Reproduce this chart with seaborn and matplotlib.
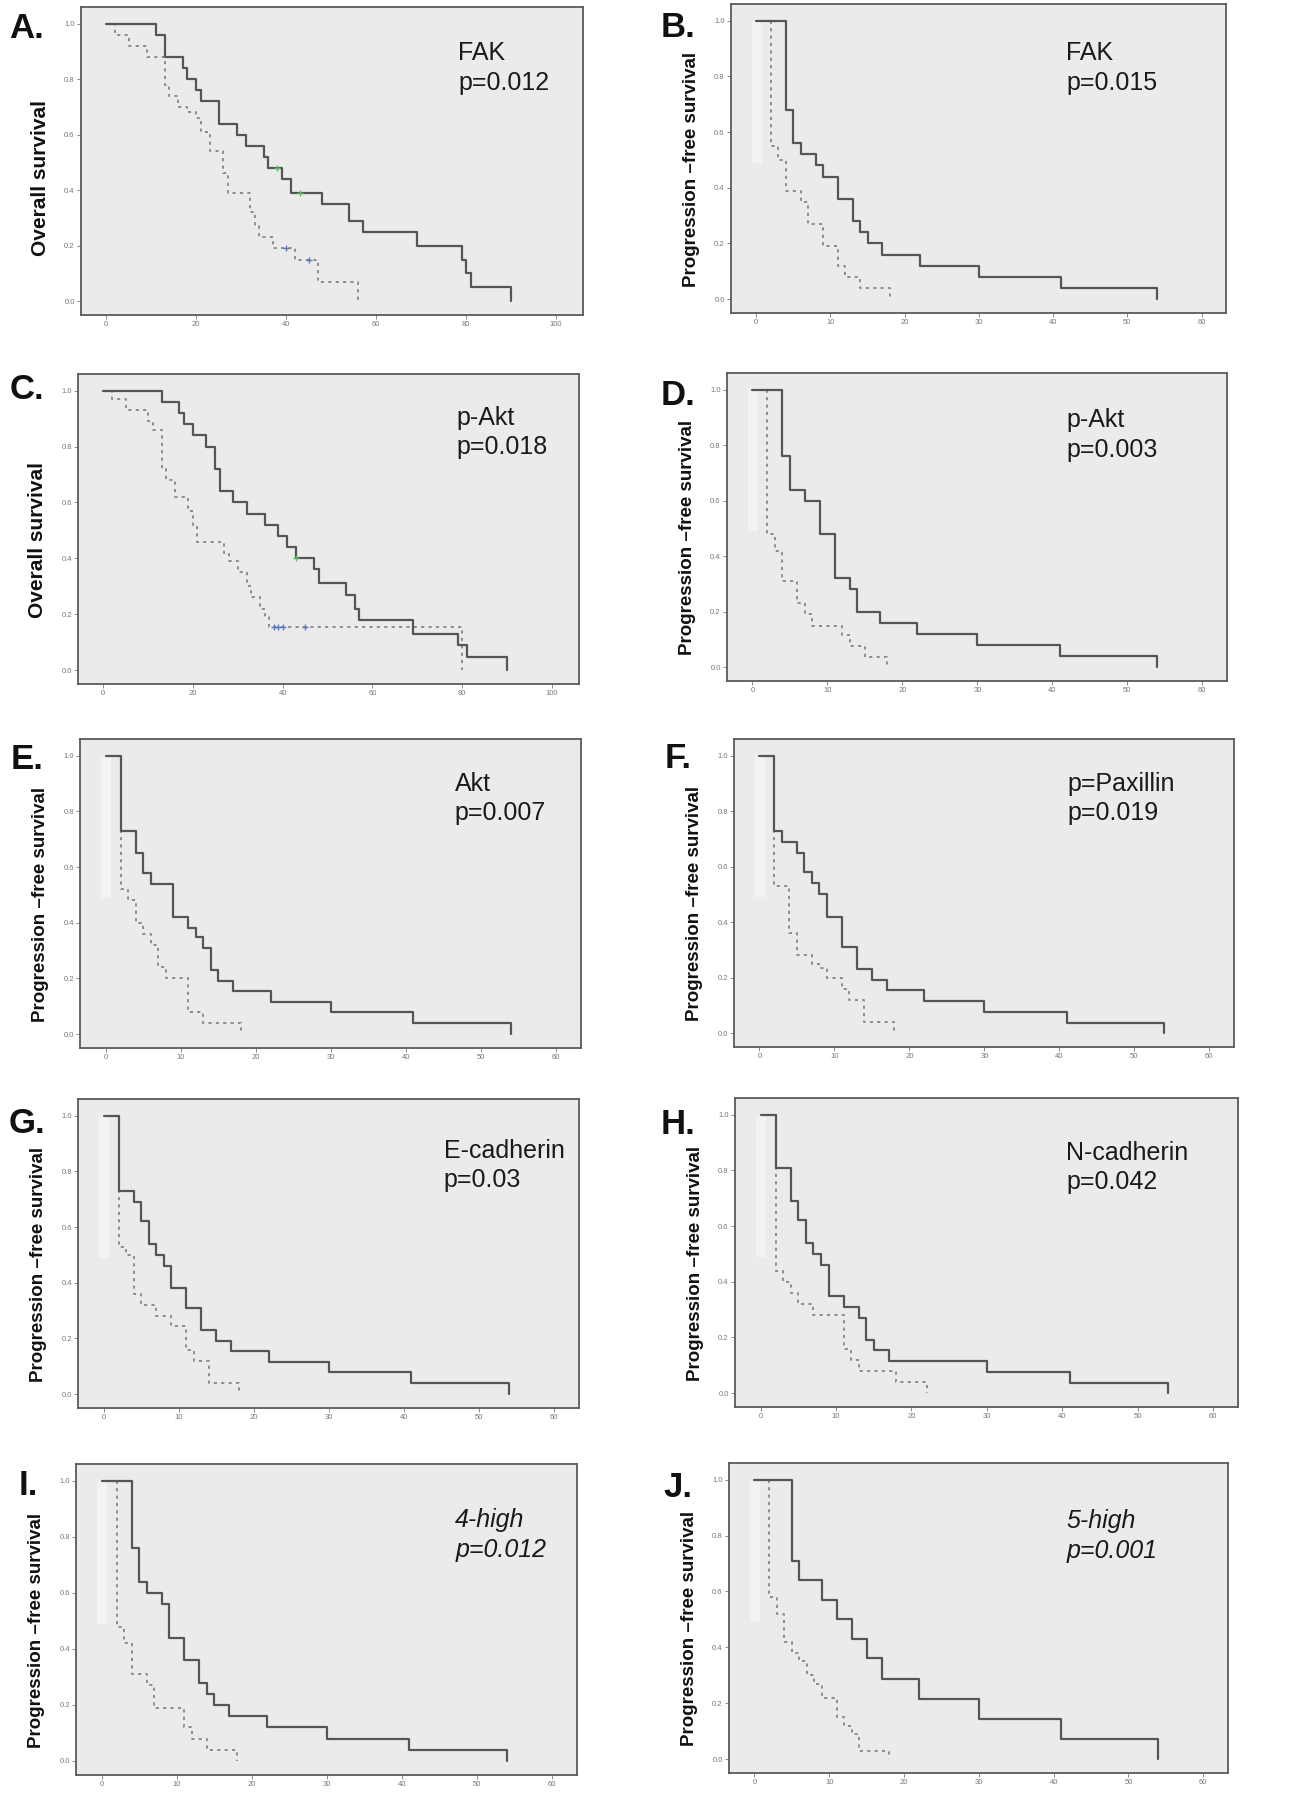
import numpy as np
import pandas as pd
import matplotlib
matplotlib.use("Agg")
import matplotlib.pyplot as plt
import seaborn as sns

# ---------------------------------------------------------------
# Kaplan-Meier curves, 10 panels (A-J)
# ---------------------------------------------------------------

letters = ["A.", "B.", "C.", "D.", "E.", "F.", "G.", "H.", "I.", "J."]
markers = ["FAK", "FAK", "p-Akt", "p-Akt", "Akt", "p=Paxillin",
           "E-cadherin", "N-cadherin", "4-high", "5-high"]
pvalues = ["p=0.012", "p=0.015", "p=0.018", "p=0.003", "p=0.007",
           "p=0.019", "p=0.03", "p=0.042", "p=0.012", "p=0.001"]
ylabels = ["Overall survival", "Progression \u2013free survival",
           "Overall survival", "Progression \u2013free survival",
           "Progression \u2013free survival", "Progression \u2013free survival",
           "Progression \u2013free survival", "Progression \u2013free survival",
           "Progression \u2013free survival", "Progression \u2013free survival"]

# A - FAK, overall survival
a_solid_t = [0, 11, 13, 17, 18, 20, 21, 25, 29, 31, 35, 36, 39, 41, 48, 54, 57, 69, 79, 80, 81, 90]
a_solid_s = [1.0, 0.96, 0.88, 0.84, 0.80, 0.76, 0.72, 0.64, 0.60, 0.56, 0.52, 0.48, 0.44, 0.39, 0.35, 0.29, 0.25, 0.20, 0.15, 0.10, 0.05, 0.0]
a_dot_t = [0, 2, 5, 9, 13, 14, 16, 18, 20, 21, 23, 26, 27, 32, 33, 34, 37, 42, 47, 56]
a_dot_s = [1.0, 0.96, 0.92, 0.88, 0.78, 0.74, 0.70, 0.68, 0.66, 0.61, 0.54, 0.46, 0.39, 0.32, 0.27, 0.23, 0.19, 0.15, 0.07, 0.0]
a_cens_solid = [38, 43]
a_cens_dot = [40, 45]

# B - FAK, PFS
b_solid_t = [0, 4, 5, 6, 8, 9, 11, 13, 14, 15, 17, 22, 30, 41, 54]
b_solid_s = [1.0, 0.68, 0.56, 0.52, 0.48, 0.44, 0.36, 0.28, 0.24, 0.20, 0.16, 0.12, 0.08, 0.04, 0.0]
b_dot_t = [0, 2, 3, 4, 6, 7, 9, 11, 12, 14, 18]
b_dot_s = [1.0, 0.55, 0.50, 0.39, 0.35, 0.27, 0.19, 0.12, 0.08, 0.04, 0.0]

# C - p-Akt, overall survival
c_solid_t = [0, 13, 17, 18, 20, 23, 25, 26, 29, 32, 36, 39, 41, 43, 47, 48, 54, 56, 57, 69, 79, 81, 90]
c_solid_s = [1.0, 0.96, 0.92, 0.88, 0.84, 0.80, 0.72, 0.64, 0.60, 0.56, 0.52, 0.48, 0.44, 0.40, 0.36, 0.31, 0.27, 0.22, 0.18, 0.13, 0.09, 0.045, 0.0]
c_dot_t = [0, 2, 5, 10, 11, 13, 14, 16, 19, 20, 21, 27, 28, 30, 32, 33, 35, 36, 37, 80]
c_dot_s = [1.0, 0.97, 0.93, 0.89, 0.86, 0.72, 0.68, 0.62, 0.57, 0.52, 0.46, 0.42, 0.39, 0.35, 0.30, 0.26, 0.22, 0.19, 0.153, 0.0]
c_cens_solid = [43]
c_cens_dot = [38, 39, 40, 45]

# D - p-Akt, PFS
d_solid_t = [0, 4, 5, 7, 9, 11, 13, 14, 17, 22, 30, 41, 54]
d_solid_s = [1.0, 0.76, 0.64, 0.60, 0.48, 0.32, 0.28, 0.20, 0.16, 0.12, 0.08, 0.04, 0.0]
d_dot_t = [0, 2, 3, 4, 6, 7, 8, 12, 13, 15, 18]
d_dot_s = [1.0, 0.48, 0.42, 0.31, 0.23, 0.19, 0.15, 0.115, 0.077, 0.038, 0.0]

# E - Akt, PFS
e_solid_t = [0, 2, 4, 5, 6, 9, 11, 12, 13, 14, 15, 17, 22, 30, 41, 54]
e_solid_s = [1.0, 0.73, 0.65, 0.58, 0.54, 0.42, 0.38, 0.35, 0.31, 0.23, 0.19, 0.155, 0.117, 0.078, 0.04, 0.0]
e_dot_t = [0, 2, 3, 4, 5, 6, 7, 8, 11, 13, 18]
e_dot_s = [1.0, 0.52, 0.48, 0.40, 0.36, 0.32, 0.24, 0.20, 0.08, 0.04, 0.0]

# F - p-Paxillin, PFS
f_solid_t = [0, 2, 3, 5, 6, 7, 8, 9, 11, 13, 15, 17, 22, 30, 41, 54]
f_solid_s = [1.0, 0.73, 0.69, 0.65, 0.58, 0.54, 0.50, 0.42, 0.31, 0.23, 0.19, 0.155, 0.117, 0.077, 0.038, 0.0]
f_dot_t = [0, 2, 4, 5, 7, 8, 9, 11, 12, 14, 18]
f_dot_s = [1.0, 0.53, 0.36, 0.28, 0.25, 0.235, 0.20, 0.16, 0.12, 0.04, 0.0]

# G - E-cadherin, PFS
g_solid_t = [0, 2, 4, 5, 6, 7, 8, 9, 11, 13, 15, 17, 22, 30, 41, 54]
g_solid_s = [1.0, 0.73, 0.69, 0.62, 0.54, 0.50, 0.46, 0.38, 0.31, 0.23, 0.19, 0.155, 0.117, 0.078, 0.04, 0.0]
g_dot_t = [0, 2, 3, 4, 5, 7, 9, 11, 12, 14, 18]
g_dot_s = [1.0, 0.53, 0.50, 0.36, 0.32, 0.28, 0.245, 0.16, 0.12, 0.04, 0.0]

# H - N-cadherin, PFS
h_solid_t = [0, 2, 4, 5, 6, 7, 8, 9, 11, 13, 14, 15, 17, 30, 41, 54]
h_solid_s = [1.0, 0.81, 0.69, 0.62, 0.54, 0.50, 0.46, 0.35, 0.31, 0.27, 0.19, 0.155, 0.115, 0.077, 0.038, 0.0]
h_dot_t = [0, 2, 3, 4, 5, 7, 11, 12, 13, 18, 22]
h_dot_s = [1.0, 0.44, 0.40, 0.36, 0.32, 0.28, 0.16, 0.12, 0.08, 0.04, 0.0]

# I - 4-high, PFS
i_solid_t = [0, 4, 5, 6, 8, 9, 11, 13, 14, 15, 17, 22, 30, 41, 54]
i_solid_s = [1.0, 0.76, 0.64, 0.60, 0.56, 0.44, 0.36, 0.28, 0.24, 0.20, 0.16, 0.12, 0.08, 0.04, 0.0]
i_dot_t = [0, 2, 3, 4, 6, 7, 11, 12, 14, 18]
i_dot_s = [1.0, 0.48, 0.42, 0.31, 0.27, 0.19, 0.12, 0.08, 0.04, 0.0]

# J - 5-high, PFS
j_solid_t = [0, 5, 6, 9, 11, 13, 15, 17, 22, 30, 41, 54]
j_solid_s = [1.0, 0.71, 0.64, 0.57, 0.50, 0.43, 0.36, 0.285, 0.215, 0.143, 0.072, 0.0]
j_dot_t = [0, 2, 3, 4, 5, 6, 7, 8, 9, 11, 12, 13, 14, 18]
j_dot_s = [1.0, 0.58, 0.52, 0.42, 0.38, 0.35, 0.30, 0.27, 0.22, 0.15, 0.12, 0.09, 0.03, 0.0]

solid_t = [a_solid_t, b_solid_t, c_solid_t, d_solid_t, e_solid_t, f_solid_t, g_solid_t, h_solid_t, i_solid_t, j_solid_t]
solid_s = [a_solid_s, b_solid_s, c_solid_s, d_solid_s, e_solid_s, f_solid_s, g_solid_s, h_solid_s, i_solid_s, j_solid_s]
dot_t = [a_dot_t, b_dot_t, c_dot_t, d_dot_t, e_dot_t, f_dot_t, g_dot_t, h_dot_t, i_dot_t, j_dot_t]
dot_s = [a_dot_s, b_dot_s, c_dot_s, d_dot_s, e_dot_s, f_dot_s, g_dot_s, h_dot_s, i_dot_s, j_dot_s]
cens_solid = {0: a_cens_solid, 2: c_cens_solid}
cens_dot = {0: a_cens_dot, 2: c_cens_dot}

# ---------------------------------------------------------------
# layout (pixel boxes on a 1292x1800 canvas)
# ---------------------------------------------------------------
W, H = 1292, 1800
boxes = [(81, 7, 583, 315), (731, 4, 1226, 313),
         (78, 374, 579, 684), (727, 373, 1227, 681),
         (80, 739, 581, 1048), (734, 739, 1234, 1047),
         (78, 1099, 579, 1408), (735, 1098, 1238, 1407),
         (76, 1464, 577, 1775), (729, 1463, 1228, 1773)]
letter_pos = [(9, 38), (661, 37), (10, 399), (661, 405), (11, 769),
              (665, 768), (9, 1133), (661, 1134), (19, 1495), (663, 1497)]
annot_pos = [(0.751, 0.888), (0.677, 0.88), (0.755, 0.898), (0.679, 0.885),
             (0.748, 0.894), (0.667, 0.894), (0.73, 0.872), (0.658, 0.862),
             (0.757, 0.857), (0.677, 0.852)]

sns.set_style("ticks")
plt.rcParams["font.family"] = ["Liberation Sans", "DejaVu Sans"]

SOLID_C = "#555555"
DOT_C = "#8c8c8c"

fig = plt.figure(figsize=(W / 100, H / 100), dpi=100)
fig.patch.set_facecolor("white")


def step_value(t, s, x):
    idx = np.searchsorted(np.asarray(t), x, side="right") - 1
    return np.asarray(s)[idx]


for k in range(10):
    l, t, r, b = boxes[k]
    ax = fig.add_axes([l / W, 1 - b / H, (r - l) / W, (b - t) / H])
    ax.set_facecolor("#ebebeb")
    is_os = k in (0, 2)

    if not is_os:
        # pale band at start of the PFS curves (SPSS artefact)
        ax.fill_between([-0.6, 0.75], 0.49, 1.0, color="#f3f3f3", lw=0, zorder=1)

    df_dot = pd.DataFrame({"time": dot_t[k], "surv": dot_s[k]})
    sns.lineplot(data=df_dot, x="time", y="surv", ax=ax, estimator=None, sort=False,
                 drawstyle="steps-post", color=DOT_C, lw=1.4,
                 linestyle=(0, (1.6, 2.2)), zorder=3)
    df_sol = pd.DataFrame({"time": solid_t[k], "surv": solid_s[k]})
    sns.lineplot(data=df_sol, x="time", y="surv", ax=ax, estimator=None, sort=False,
                 drawstyle="steps-post", color=SOLID_C, lw=1.6, zorder=4)

    if k in cens_solid:
        cx = cens_solid[k]
        cy = step_value(solid_t[k], solid_s[k], cx)
        sns.scatterplot(x=cx, y=cy, ax=ax, marker="+", color="#55bb55", s=22,
                        linewidth=1.0, zorder=5)
        cx = cens_dot[k]
        cy = step_value(dot_t[k], dot_s[k], cx)
        sns.scatterplot(x=cx, y=cy, ax=ax, marker="+", color="#5a78c8", s=22,
                        linewidth=1.0, zorder=5)

    if is_os:
        ax.set_xlim(-5.6, 106)
        ax.set_xticks(np.arange(0, 101, 20))
    else:
        ax.set_xlim(-3.4, 63.3)
        ax.set_xticks(np.arange(0, 61, 10))
    ax.set_ylim(-0.05, 1.06)
    ax.set_yticks(np.arange(0, 1.01, 0.2))
    ax.set_yticklabels([f"{v:.1f}" for v in np.arange(0, 1.01, 0.2)])

    ax.tick_params(length=3, width=0.6, color="#777777", labelsize=5.5,
                   labelcolor="#777777", pad=1.5)
    for sp in ax.spines.values():
        sp.set_visible(True)
        sp.set_color("#5a5a5a")
        sp.set_linewidth(1.3)

    ax.set_xlabel("")
    ax.set_ylabel(ylabels[k], fontsize=15 if is_os else 13.5, fontweight="bold",
                  color="#111111")
    ax.yaxis.set_label_coords(-0.062, 0.445 if k == 0 else 0.465)

    italic = "italic" if k >= 8 else "normal"
    ax.text(annot_pos[k][0], annot_pos[k][1], markers[k] + "\n" + pvalues[k],
            transform=ax.transAxes, ha="left", va="top", fontsize=18,
            linespacing=1.3, style=italic, color="#1a1a1a")

    lx, ly = letter_pos[k]
    fig.text(lx / W, 1 - ly / H, letters[k], fontsize=25, fontweight="bold",
             ha="left", va="baseline", color="#111111")

fig.savefig("out.png", dpi=100)
